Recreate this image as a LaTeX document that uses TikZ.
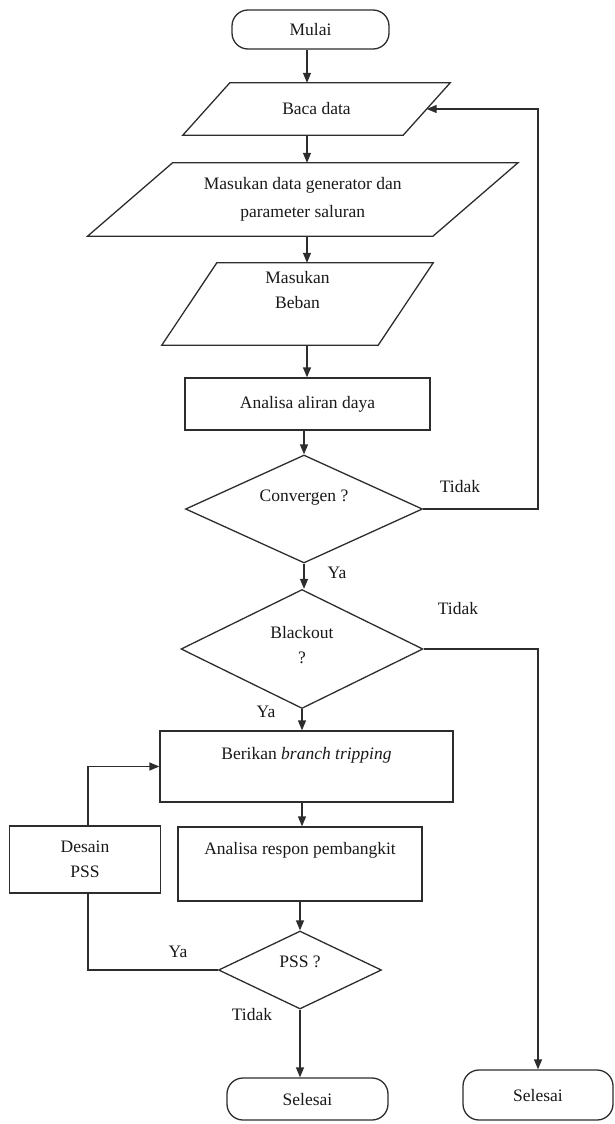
\documentclass[tikz,border=0pt]{standalone}
\usepackage{fontspec}
\setmainfont{Liberation Serif}
\usetikzlibrary{shapes.geometric,arrows.meta}
\definecolor{ln}{RGB}{45,45,45}
\newcommand\mypara[2]{\draw[line] ([xshift=#2/2*1pt]#1.north west) -- ([xshift=#2/2*1pt]#1.north east) -- ([xshift=-#2/2*1pt]#1.south east) -- ([xshift=-#2/2*1pt]#1.south west) -- cycle;}
\begin{document}
\begin{tikzpicture}[x=1pt,y=-1pt,
  line/.style={draw=ln, line width=1.3pt},
  arr/.style={line, -{Triangle[length=10pt,width=8pt]}},
  txt/.style={font=\fontsize{17.5}{25}\selectfont, align=center, inner sep=0pt, text=black!90},
  box/.style={line, rectangle, inner sep=0pt, txt},
  pbox/.style={rectangle, draw=none, inner sep=0pt, txt},
  dia/.style={line, diamond, inner sep=0pt},
  term/.style={line, rectangle, rounded corners=16pt, inner sep=0pt, txt}]
\useasboundingbox (0,0) rectangle (615,1124);
% nodes
\node[term, minimum width=157pt, minimum height=39pt] (mulai) at (310.5,29.5) {Mulai};
\node[pbox, minimum width=220pt, minimum height=52pt] (baca) at (316.5,109) {Baca data};
\mypara{baca}{47}
\node[pbox, minimum width=345pt, minimum height=73pt] (mdata) at (302.75,199.5) {Masukan data generator dan\\[3pt]parameter saluran};
\mypara{mdata}{85}
\node[pbox, minimum width=216pt, minimum height=82pt] (beban) at (297.5,304) {};
\mypara{beban}{55}
\node[txt] at ([yshift=14pt]beban.center) {Masukan\\Beban};
\node[box, minimum width=245pt, minimum height=52pt] (aliran) at (307.5,404) {Analisa aliran daya};
\node[dia, minimum width=237pt, minimum height=108pt] (conv) at (304,509) {};
\node[txt] at ([yshift=11pt]conv.center) {Convergen ?};
\node[dia, minimum width=242pt, minimum height=119pt] (black) at (302,649) {};
\node[txt] at ([yshift=4pt]black.center) {Blackout\\?};
\node[box, minimum width=293pt, minimum height=71pt] (berikan) at (306.5,766.5) {};
\node[txt] at ([yshift=11pt]berikan.center) {Berikan \textit{branch tripping}};
\node[box, minimum width=244pt, minimum height=74pt] (respon) at (300,864) {};
\node[txt] at ([yshift=14pt]respon.center) {Analisa respon pembangkit};
\node[box, minimum width=151pt, minimum height=67pt] (desain) at (85,859.5) {Desain\\PSS};
\node[dia, minimum width=163pt, minimum height=78pt] (pss) at (300,970) {};
\node[txt] at ([yshift=8pt]pss.center) {PSS ?};
\node[term, minimum width=161pt, minimum height=42pt] (sel1) at (307.5,1099) {Selesai};
\node[term, minimum width=150pt, minimum height=50pt] (sel2) at (538,1095) {Selesai};
% helper coordinates
\coordinate (ca) at (307,0);
\coordinate (rx) at (538,0);
\coordinate (dx) at (88,0);
% connectors
\draw[arr] (mulai.south -| ca) -- (baca.north -| ca);
\draw[arr] (baca.south -| ca) -- (mdata.north -| ca);
\draw[arr] (mdata.south -| ca) -- (beban.north -| ca);
\draw[arr] (beban.south -| ca) -- (aliran.north -| ca);
\draw[arr] (aliran.south -| conv.north) -- (conv.north);
\draw[arr] (conv.south) -- (conv.south |- black.north);
\draw[arr] (black.south) -- (black.south |- berikan.north);
\draw[arr] (berikan.south -| black.south) -- (respon.north -| black.south);
\draw[arr] (respon.south -| pss.north) -- (pss.north);
\draw[arr] (pss.south) -- (pss.south |- sel1.north);
\draw[arr] (conv.east) -| (rx |- baca.east) -- (baca.east);
\draw[arr] (black.east) -| (sel2.north);
\draw[arr] (desain.north -| dx) |- (berikan.west);
\draw[line] (pss.west) -| (desain.south -| dx);
% labels
\node[txt] at (460,487) {Tidak};
\node[txt] at (337,573) {Ya};
\node[txt] at (458,609) {Tidak};
\node[txt] at (266,712) {Ya};
\node[txt] at (178,952) {Ya};
\node[txt] at (252,1015) {Tidak};
\end{tikzpicture}
\end{document}
